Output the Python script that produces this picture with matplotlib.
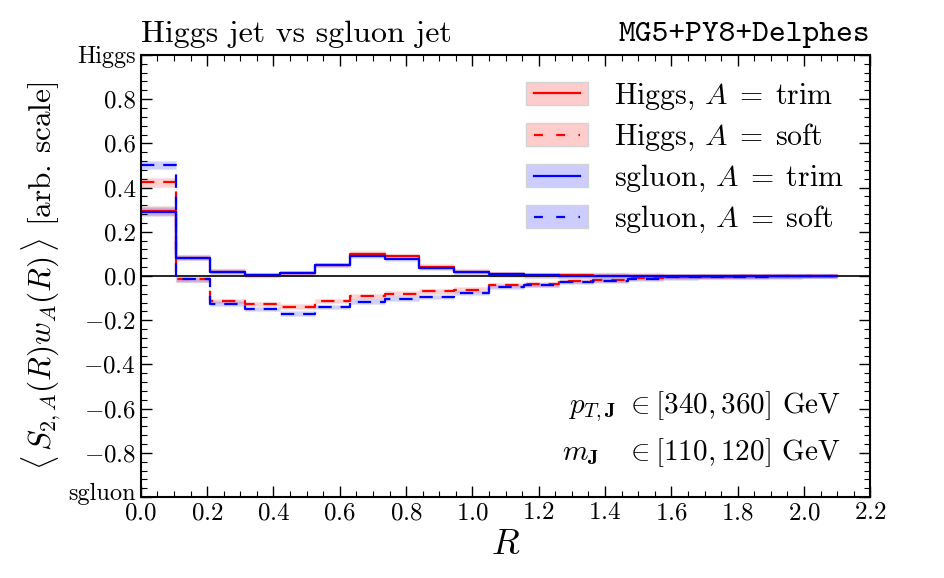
import numpy as np
import matplotlib.pyplot as plt
from matplotlib.ticker import MultipleLocator, FixedLocator
from matplotlib.patches import Patch, Rectangle
from matplotlib.lines import Line2D
from matplotlib.legend_handler import HandlerBase
from matplotlib.transforms import ScaledTranslation

plt.rcParams['font.family'] = 'serif'
plt.rcParams['font.serif'] = ['cmr10']
plt.rcParams['mathtext.fontset'] = 'cm'
plt.rcParams['axes.formatter.use_mathtext'] = True

# bin edges in R (20 bins of width 0.105)
edges = np.linspace(0.0, 2.1, 21)

higgs_trim = [0.295, 0.083, 0.020, 0.005, 0.012, 0.050, 0.101, 0.090, 0.042, 0.020,
              0.008, 0.004, 0.003, 0.002, 0.002, 0.001, 0.001, 0.001, 0.001, 0.001]
higgs_soft = [0.424, -0.015, -0.113, -0.127, -0.138, -0.113, -0.092, -0.080, -0.070, -0.062,
              -0.042, -0.038, -0.023, -0.017, -0.009, -0.004, -0.003, -0.002, -0.001, -0.001]
sgluon_trim = [0.290, 0.083, 0.020, 0.005, 0.012, 0.050, 0.092, 0.077, 0.036, 0.017,
               0.007, 0.003, 0.002, 0.002, 0.001, 0.001, 0.001, 0.001, 0.001, 0.001]
sgluon_soft = [0.502, -0.015, -0.125, -0.150, -0.170, -0.140, -0.116, -0.102, -0.095, -0.076,
               -0.050, -0.042, -0.027, -0.021, -0.012, -0.006, -0.004, -0.003, -0.002, -0.001]
err_first = 0.02
err_rest = 0.01

fig = plt.figure(figsize=(9.45, 5.78), dpi=100)
ax = fig.add_axes([0.149, 0.140, 0.772, 0.765])


def draw(vals, color, ls):
    v = np.array(vals)
    err = np.full(len(v), err_rest)
    err[0] = err_first
    ystep = np.append(v, v[-1])
    estep = np.append(err, err[-1])
    ax.fill_between(edges, ystep - estep, ystep + estep, step='post',
                    facecolor=color, alpha=0.18, edgecolor='lightgray', lw=1.0)
    ax.step(edges, ystep, where='post', color=color, ls=ls, lw=1.6,
            dashes=(6, 4) if ls == '--' else (None, None))


ax.axhline(0, color='black', lw=1.2)
draw(higgs_trim, 'red', '-')
draw(higgs_soft, 'red', '--')
draw(sgluon_trim, 'blue', '-')
draw(sgluon_soft, 'blue', '--')

ax.set_xlim(0, 2.2)
ax.set_ylim(-1, 1)
ax.xaxis.set_major_locator(MultipleLocator(0.2))
ax.xaxis.set_minor_locator(MultipleLocator(0.05))
yt = [-1.0, -0.8, -0.6, -0.4, -0.2, 0.0, 0.2, 0.4, 0.6, 0.8, 1.0]
ax.yaxis.set_major_locator(FixedLocator(yt))
ax.set_yticklabels(['sgluon', r'$-0.8$', r'$-0.6$', r'$-0.4$', r'$-0.2$', '0.0',
                    '0.2', '0.4', '0.6', '0.8', 'Higgs'])
ax.yaxis.set_minor_locator(MultipleLocator(0.04))
ax.tick_params(which='both', direction='in', top=True, right=True, labelsize=18)
ax.tick_params(which='major', length=8, width=1.0)
ax.tick_params(which='minor', length=4, width=0.8)
for lab in ax.get_yticklabels():
    if lab.get_text() in ('Higgs', 'sgluon'):
        lab.set_fontsize(17.5)
    if lab.get_text() == 'sgluon':
        lab.set_transform(lab.get_transform() + ScaledTranslation(0, 4 / 72, fig.dpi_scale_trans))
for s in ax.spines.values():
    s.set_linewidth(1.5)

ax.set_xlabel(r'$R$', fontsize=26)
ax.set_ylabel(r'$\langle\, S_{2,A}(R) w_A(R)\, \rangle$ [arb. scale]', fontsize=22.5)

ax.text(0.0, 1.015, 'Higgs jet vs sgluon jet', transform=ax.transAxes,
        fontsize=23, ha='left', va='bottom')
ax.text(1.0, 1.015, 'MG5+PY8+Delphes', transform=ax.transAxes,
        fontsize=23, ha='right', va='bottom', family='cmtt10')

ax.text(0.96, 0.205, r'$p_{T,\mathbf{J}}\ \in [340, 360]$ GeV', transform=ax.transAxes,
        fontsize=21, ha='right', va='center')
ax.text(0.96, 0.1, r'$m_{\mathbf{J}}\ \ \ \in [110, 120]$ GeV', transform=ax.transAxes,
        fontsize=21, ha='right', va='center')


class BandLine(HandlerBase):
    def create_artists(self, legend, orig, xd, yd, w, h, fontsize, trans):
        patch, line = orig
        r = Rectangle((-xd, -yd - 0.05 * h), w, 1.1 * h, facecolor=patch.get_facecolor(),
                      edgecolor='lightgray', lw=1.0, transform=trans)
        l = Line2D([-xd + 0.13 * w, -xd + 0.87 * w], [-yd + h / 2] * 2,
                   color=line.get_color(), ls=line.get_linestyle(), lw=1.6,
                   transform=trans)
        if line.get_linestyle() == '--':
            l.set_dashes((4, 6))
        return [r, l]


handles = []
for color, ls in [('red', '-'), ('red', '--'), ('blue', '-'), ('blue', '--')]:
    handles.append((Patch(facecolor=(1, 0, 0, 0.2) if color == 'red' else (0, 0, 1, 0.2)),
                    Line2D([], [], color=color, ls=ls)))
labels = [r'Higgs, $A\;=\;$trim', r'Higgs, $A\;=\;$soft',
          r'sgluon, $A\;=\;$trim', r'sgluon, $A\;=\;$soft']
ax.legend(handles, labels, loc='upper right', fontsize=21.5, frameon=False,
          handler_map={tuple: BandLine()}, handlelength=2.1, handleheight=0.72,
          handletextpad=0.85, borderaxespad=0.5, labelspacing=0.33)

fig.savefig('out.png', dpi=100)
